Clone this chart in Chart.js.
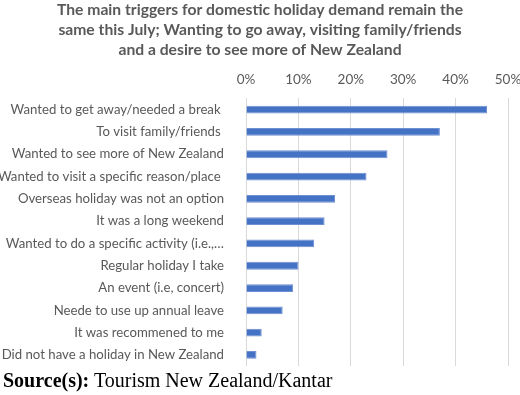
<!DOCTYPE html>
<html>
<head>
<meta charset="utf-8">
<script src="https://cdn.jsdelivr.net/npm/chart.js@4"></script>
<style>
  body { margin: 0; background: #fff; }
  #wrap { position: relative; width: 520px; height: 395px; }
  #triggerChart { position: absolute; left: 0; top: 0; }
  #source {
    position: absolute; left: 3px; top: 369px;
    font-family: "Liberation Serif", "Times New Roman", serif;
    font-size: 20px; color: #000; white-space: nowrap;
  }
</style>
</head>
<body>
<div id="wrap">
  <canvas id="triggerChart" width="520" height="388"></canvas>
  <div id="source"><b>Source(s):</b> Tourism New Zealand/Kantar</div>
</div>
<script>
// Chart data
const titleLines = [
    "The main triggers for domestic holiday demand remain the",
    "same this July; Wanting to go away, visiting family/friends",
    "and a desire to see more of New Zealand"
];
const reasons = [
    "Wanted to get away/needed a break ",
    "To visit family/friends ",
    "Wanted to see more of New Zealand",
    "Wanted to visit a specific reason/place ",
    "Overseas holiday was not an option",
    "It was a long weekend",
    "Wanted to do a specific activity (i.e.,…",
    "Regular holiday I take",
    "An event (i.e, concert)",
    "Neede to use up annual leave",
    "It was recommened to me",
    "Did not have a holiday in New Zealand"
];
const shares = [46, 37, 27, 23, 17, 15, 13, 10, 9, 7, 3, 2];
const tickValues = [0, 10, 20, 30, 40, 50];

const greyText = "#595959";
const uiFont = "Lato, 'Open Sans', sans-serif";

let ctx = document.getElementById("triggerChart").getContext("2d");

new Chart(ctx, {
    type: "bar",
    data: {
        labels: reasons,
        datasets: [{
            data: shares,
            backgroundColor: "#4472C4",
            borderColor: "#6f8fd3",
            borderWidth: 1,
            categoryPercentage: 0.7,
            barPercentage: 0.5
        }]
    },
    options: {
        indexAxis: "y",
        responsive: false,
        animation: false,
        layout: { padding: { top: 0, right: 0, bottom: 2, left: 0 } },
        plugins: {
            legend: { display: false },
            tooltip: { enabled: false },
            title: {
                display: true,
                text: titleLines,
                color: greyText,
                font: { family: uiFont, size: 15.7, weight: "bold", lineHeight: 1.28 },
                padding: { top: 0, bottom: 0 }
            }
        },
        scales: {
            x: {
                position: "top",
                min: 0,
                max: 50,
                afterBuildTicks: scale => {
                    scale.ticks = tickValues.map(v => ({ value: v }));
                },
                // keep the 50% label close to the right edge like the original
                afterFit: scale => {
                    scale.paddingRight = 12;
                    scale.paddingLeft = 0;
                },
                ticks: {
                    color: greyText,
                    font: { family: uiFont, size: 13.5 },
                    padding: 11,
                    callback: v => v + "%"
                },
                grid: { color: "#d9d9d9", drawTicks: false },
                border: { display: false }
            },
            y: {
                afterFit: scale => { scale.width = 246; },
                ticks: {
                    color: greyText,
                    font: { family: uiFont, size: 13.2 },
                    padding: 14,
                    autoSkip: false
                },
                grid: { display: false },
                border: { display: false }
            }
        }
    }
});
</script>
</body>
</html>
